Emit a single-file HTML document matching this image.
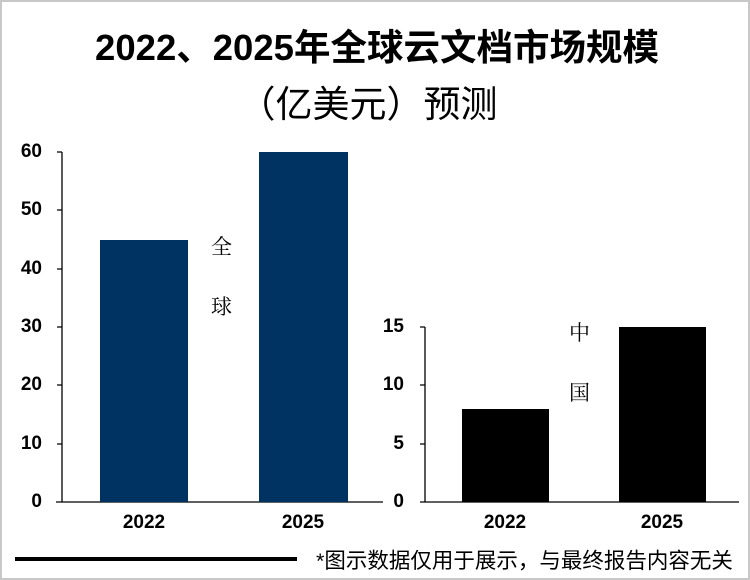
<!DOCTYPE html><html><head><meta charset="utf-8"><style>
body{margin:0;width:750px;height:580px;overflow:hidden;background:#fff;font-family:"Liberation Sans","Noto Sans CJK SC",sans-serif}
.b{position:absolute;left:0;top:0;width:746px;height:576px;border:2px solid #c8c8c8}
.t{position:absolute;left:0;width:750px;text-align:center;font-weight:bold;font-size:36.5px;color:#000;white-space:nowrap}
.a{position:absolute;font-weight:bold;font-size:19px;text-align:right;width:40px}
.x{position:absolute;font-weight:bold;font-size:19px;width:100px;text-align:center}
.l{position:absolute;font-family:"Noto Serif CJK SC",serif;font-size:21px}
</style></head><body><div class="b"></div>
<div class="t" style="top:18px;left:2px">2022、2025年全球云文档市场规模</div>
<div class="t" style="top:74px;font-weight:normal;font-size:37px;left:-7px">（亿美元）预测</div>
<svg width="750" height="580" style="position:absolute;left:0;top:0">
<g stroke="#000" stroke-width="1.3" fill="none">
<path d="M62 152V502M57 152H62M57 210H62M57 269H62M57 327H62M57 385H62M57 444H62M56 502H383"/>
<path d="M425 327V502M420 327H425M420 385H425M420 444H425M420 502H739"/>
</g>
<rect x="100" y="240" width="88" height="262" fill="#003361"/>
<rect x="259" y="152" width="89" height="350" fill="#003361"/>
<rect x="462" y="409" width="87" height="93" fill="#000"/>
<rect x="619" y="327" width="87" height="175" fill="#000"/>
<rect x="15" y="557" width="282" height="4" fill="#000"/>
</svg>
<div class="a" style="left:2px;top:141px">60</div><div class="a" style="left:2px;top:199px">50</div>
<div class="a" style="left:2px;top:258px">40</div><div class="a" style="left:2px;top:316px">30</div>
<div class="a" style="left:2px;top:374px">20</div><div class="a" style="left:2px;top:433px">10</div>
<div class="a" style="left:2px;top:491px">0</div>
<div class="a" style="left:364px;top:316px">15</div><div class="a" style="left:364px;top:374px">10</div>
<div class="a" style="left:364px;top:433px">5</div><div class="a" style="left:364px;top:491px">0</div>
<div class="x" style="left:94px;top:512px">2022</div><div class="x" style="left:253px;top:512px">2025</div>
<div class="x" style="left:455px;top:512px">2022</div><div class="x" style="left:612px;top:512px">2025</div>
<div class="l" style="left:211px;top:231px">全</div><div class="l" style="left:211px;top:291px">球</div>
<div class="l" style="left:569px;top:317px">中</div><div class="l" style="left:569px;top:377px">国</div>
<div style="position:absolute;left:316px;top:544px;font-size:21.5px;white-space:nowrap">*图示数据仅用于展示，与最终报告内容无关</div>
</body></html>
